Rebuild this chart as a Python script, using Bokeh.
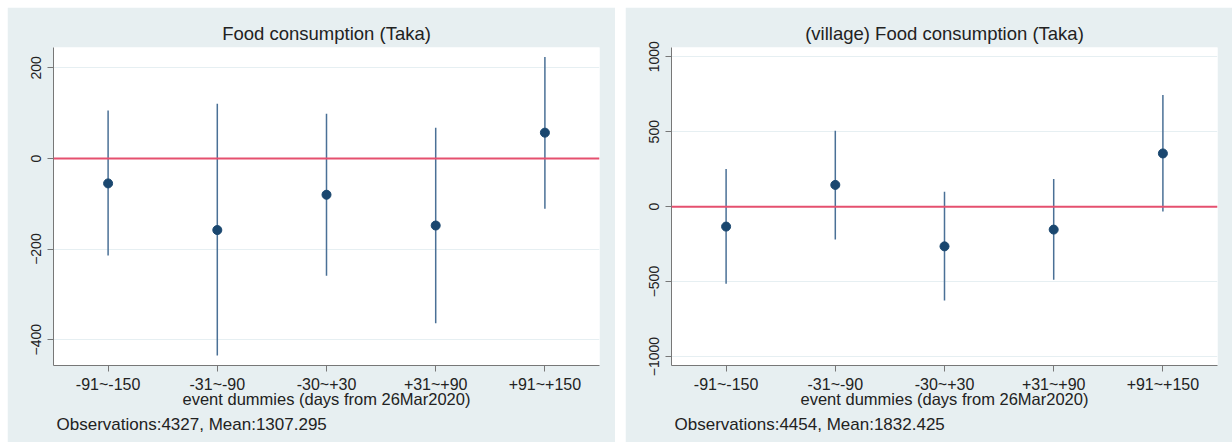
from bokeh.plotting import figure
from bokeh.layouts import row
from bokeh.models import Title, Span, FixedTicker, Range1d, ColumnDataSource
from bokeh.embed import file_html
from bokeh.resources import INLINE

categories = ["-91~-150", "-31~-90", "-30~+30", "+31~+90", "+91~+150"]
positions = [1, 2, 3, 4, 5]

left_est = [-55, -158, -80, -148, 57]
left_lo = [-214, -435, -259, -364, -111]
left_hi = [106, 121, 99, 68, 224]
left_ticks = [-400, -200, 0, 200]

right_est = [-133, 145, -265, -153, 355]
right_lo = [-515, -220, -627, -487, -33]
right_hi = [251, 507, 100, 185, 745]
right_ticks = [-1000, -500, 0, 500, 1000]

BG = "#e7eff1"
TXT = "#222222"
FONT = "Liberation Sans"


def make_panel(title, est, lo, hi, ticks, yr, obs_text, width, bl, br):
    p = figure(width=width, height=435,
               x_range=Range1d(0.5, 5.5), y_range=Range1d(*yr),
               output_backend="svg", toolbar_location=None,
               background_fill_color="white", border_fill_color=BG,
               min_border_left=bl, min_border_right=br,
               min_border_top=40, min_border_bottom=77)
    p.outline_line_color = None
    p.title.text = title
    p.title.align = "center"
    p.title.text_font = FONT
    p.title.text_font_size = "18.5px"
    p.title.text_font_style = "normal"
    p.title.text_color = TXT
    p.title.standoff = 8

    xa = p.xaxis[0]
    xa.ticker = FixedTicker(ticks=positions)
    xa.major_label_overrides = {pos: c for pos, c in zip(positions, categories)}
    xa.minor_tick_line_color = None
    xa.major_tick_in = 0
    xa.major_tick_out = 6
    xa.major_label_standoff = 4
    xa.axis_line_color = "#777777"
    xa.major_tick_line_color = "#777777"
    xa.major_label_text_font = FONT
    xa.major_label_text_font_size = "16px"
    xa.major_label_text_color = TXT
    xa.axis_label = "event dummies (days from 26Mar2020)"
    xa.axis_label_text_font = FONT
    xa.axis_label_text_font_size = "16.5px"
    xa.axis_label_text_font_style = "normal"
    xa.axis_label_text_color = TXT
    xa.axis_label_standoff = -6

    ya = p.yaxis[0]
    ya.ticker = FixedTicker(ticks=ticks)
    ya.minor_tick_line_color = None
    ya.major_tick_in = 0
    ya.major_tick_out = 6
    ya.major_label_standoff = 6
    ya.major_label_orientation = "vertical"
    ya.axis_line_color = "#777777"
    ya.major_tick_line_color = "#777777"
    ya.major_label_text_font = FONT
    ya.major_label_text_font_size = "14px"
    ya.major_label_text_color = TXT

    p.xgrid.visible = False
    p.ygrid.ticker = FixedTicker(ticks=ticks)
    p.ygrid.grid_line_color = "#e6eff2"
    p.ygrid.grid_line_width = 1

    p.add_layout(Span(location=0, dimension="width", line_color="#e5506f", line_width=2))

    src = ColumnDataSource(dict(x=positions, est=est, lo=lo, hi=hi))
    p.segment(x0="x", y0="lo", x1="x", y1="hi", source=src,
              line_color="#4a7096", line_width=1.5)
    p.scatter(x="x", y="est", source=src, size=9,
              fill_color="#1a476f", line_color="#1a476f")

    obs = Title(text=obs_text, align="left", text_font=FONT,
                text_font_size="17px", text_font_style="normal",
                text_color=TXT, offset=3, standoff=4)
    p.add_layout(obs, "below")
    return p


p1 = make_panel("Food consumption (Taka)", left_est, left_lo, left_hi,
                left_ticks, (-457, 245), "Observations:4327, Mean:1307.295",
                608, 46, 16)
p2 = make_panel("(village) Food consumption (Taka)", right_est, right_lo, right_hi,
                right_ticks, (-1060, 1062), "Observations:4454, Mean:1832.425",
                607, 46, 15)

layout = row(p1, p2, spacing=10, margin=(7, 0, 0, 7))
open("out.html", "w").write(file_html(layout, INLINE))
